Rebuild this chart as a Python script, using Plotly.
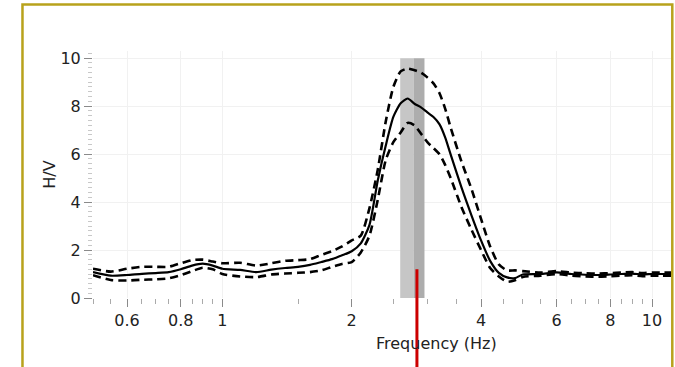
import math
import plotly.graph_objects as go

# ---------------- data ----------------
freq = [0.50, 0.55, 0.60, 0.65, 0.70, 0.75, 0.80, 0.85, 0.90, 0.95,
        1.0, 1.1, 1.2, 1.3, 1.4, 1.5, 1.6, 1.7, 1.8, 1.9,
        2.0, 2.1, 2.2, 2.3, 2.4, 2.5, 2.6, 2.7, 2.8, 2.9,
        3.0, 3.1, 3.2, 3.3, 3.4, 3.6, 3.8, 4.0, 4.2, 4.4, 4.6, 4.8,
        5.0, 5.5, 6.0, 6.5, 7.0, 7.5, 8.0, 8.5, 9.0, 9.5,
        10.0, 10.5, 11.2]

hv_mean = [1.08, 0.93, 0.96, 1.01, 1.04, 1.08, 1.20, 1.35, 1.43, 1.35,
           1.22, 1.17, 1.08, 1.18, 1.25, 1.30, 1.38, 1.50, 1.62, 1.78,
           1.95, 2.28, 3.05, 4.90, 6.35, 7.55, 8.12, 8.32, 8.10, 7.95,
           7.74, 7.55, 7.25, 6.70, 5.98, 4.62, 3.45, 2.40, 1.55, 1.05, 0.86, 0.83,
           0.98, 1.00, 1.07, 1.00, 0.97, 0.96, 0.98, 1.00, 1.02, 0.98,
           1.00, 1.00, 1.00]

hv_upper = [1.22, 1.10, 1.22, 1.30, 1.30, 1.30, 1.45, 1.58, 1.60, 1.52,
            1.45, 1.47, 1.35, 1.45, 1.55, 1.58, 1.62, 1.80, 1.95, 2.15,
            2.40, 2.60, 3.75, 5.35, 7.35, 8.80, 9.45, 9.57, 9.50, 9.40,
            9.20, 8.95, 8.55, 7.90, 7.10, 5.70, 4.55, 3.30, 2.15, 1.40, 1.15, 1.15,
            1.12, 1.06, 1.12, 1.06, 1.03, 1.02, 1.04, 1.06, 1.08, 1.04,
            1.06, 1.06, 1.06]

hv_lower = [0.95, 0.75, 0.73, 0.76, 0.78, 0.82, 0.95, 1.12, 1.26, 1.20,
            1.00, 0.90, 0.87, 0.98, 1.02, 1.05, 1.08, 1.15, 1.30, 1.42,
            1.50, 1.90, 2.60, 4.10, 5.75, 6.50, 6.90, 7.30, 7.20, 6.85,
            6.50, 6.25, 6.00, 5.55, 5.00, 3.80, 2.85, 2.00, 1.25, 0.90, 0.68, 0.74,
            0.88, 0.93, 1.00, 0.93, 0.90, 0.89, 0.91, 0.93, 0.95, 0.91,
            0.93, 0.93, 0.93]

peak_band_lo = [2.594, 2.786]   # two overlapping grey bands (Hz)
peak_band_hi = [2.786, 2.954]
peak_band_colors = ["#c6c6c6", "#adadad"]
peak_freq = 2.837               # red marker frequency (Hz)
peak_marker_top = 1.2           # H/V value where red line starts

x_tickvals = [0.6, 0.8, 1, 2, 4, 6, 8, 10]
x_ticktext = ["0.6", "0.8", "1", "2", "4", "6", "8", "10"]
x_minor = [0.5, 0.55, 0.65, 0.7, 0.75, 0.85, 0.9, 0.95, 1.5, 2.5, 3, 3.5,
           4.5, 5, 5.5, 6.5, 7, 7.5, 8.5, 9, 9.5]
y_tickvals = [0, 2, 4, 6, 8, 10]
x_title = "Frequency (Hz)"
y_title = "H/V"

x_range = [0.5, 11.13]
y_range = [0, 10.3]

# ---------------- figure ----------------
FONT = "DejaVu Sans"
fig = go.Figure()

dash_line = dict(color="black", width=2.6, dash="8px,5px", shape="spline", smoothing=0.6)
fig.add_trace(go.Scatter(x=freq, y=hv_upper, mode="lines", line=dash_line,
                         showlegend=False, hoverinfo="skip"))
fig.add_trace(go.Scatter(x=freq, y=hv_lower, mode="lines", line=dash_line,
                         showlegend=False, hoverinfo="skip"))
fig.add_trace(go.Scatter(x=freq, y=hv_mean, mode="lines",
                         line=dict(color="black", width=2.2, shape="spline", smoothing=0.6),
                         showlegend=False))

for lo, hi, c in zip(peak_band_lo, peak_band_hi, peak_band_colors):
    fig.add_shape(type="rect", xref="x", yref="y", x0=lo, x1=hi,
                  y0=0, y1=10, fillcolor=c, line=dict(width=0), layer="between")

# red vertical marker, extends below the plot area
y_top_paper = (peak_marker_top - y_range[0]) / (y_range[1] - y_range[0])
fig.add_shape(type="line", xref="x", yref="paper", x0=peak_freq, x1=peak_freq,
              y0=-0.6, y1=y_top_paper, line=dict(color="#cc0000", width=3),
              layer="above")

# golden frame around the chart
fig.add_shape(type="rect", xref="paper", yref="paper",
              x0=-0.1218, x1=1.0005, y0=-0.7, y1=1.188,
              line=dict(color="#b8a21c", width=2.5), fillcolor="rgba(0,0,0,0)")

# x-axis title (placed off-centre, as in the reference)
fig.add_annotation(text=x_title, xref="paper", yref="paper", x=0.594, y=-0.186,
                   xanchor="center", yanchor="middle", showarrow=False,
                   font=dict(family=FONT, size=16, color="#222"))

fig.update_xaxes(type="log", range=[math.log10(x_range[0]), math.log10(x_range[1])],
                 tickmode="array", tickvals=x_tickvals, ticktext=x_ticktext,
                 ticks="outside", ticklen=8, tickcolor="#8a8a8a", tickwidth=1,
                 showline=False, zeroline=False,
                 showgrid=True, gridcolor="#f1f1f1", gridwidth=1,
                 minor=dict(tickmode="array", tickvals=x_minor, ticks="outside",
                            ticklen=5, tickcolor="#aaaaaa", showgrid=False),
                 tickfont=dict(family=FONT, size=16, color="#222"))

fig.update_yaxes(range=y_range, tickmode="array", tickvals=y_tickvals,
                 ticks="outside", ticklen=8, tickcolor="#8a8a8a", tickwidth=1,
                 showline=False, zeroline=False,
                 showgrid=True, gridcolor="#f1f1f1", gridwidth=1,
                 minor=dict(dtick=0.2, ticks="outside", ticklen=4,
                            tickcolor="#c8c8c8", showgrid=False),
                 tickfont=dict(family=FONT, size=16, color="#222"),
                 title=dict(text=y_title, standoff=0,
                            font=dict(family=FONT, size=16, color="#222")))

fig.update_layout(width=675, height=367,
                  margin=dict(l=93, r=3, t=51, b=69, autoexpand=False),
                  paper_bgcolor="white", plot_bgcolor="white",
                  showlegend=False)

# remove the default 8px page margin so the figure fills the window exactly
fig.write_html("out.html",
               config={"displayModeBar": False},
               post_script="document.body.style.margin='0';"
                           "document.body.style.overflow='hidden';")
